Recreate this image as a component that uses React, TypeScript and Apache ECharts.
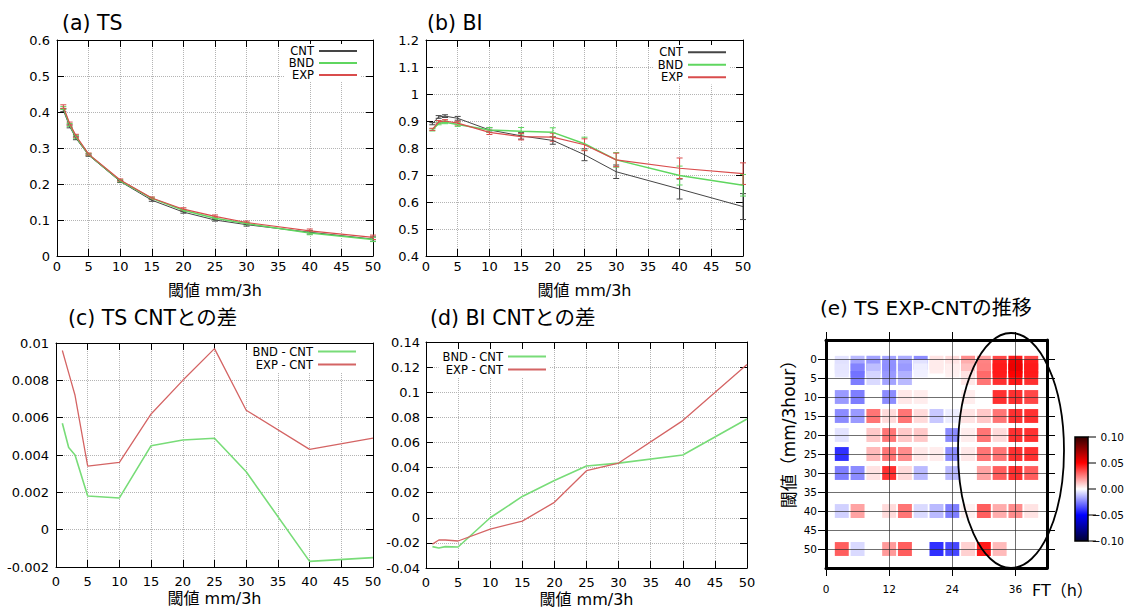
import React, { useEffect, useRef } from 'react';
import * as echarts from 'echarts';

const FONT = "'DejaVu Sans', 'Noto Sans CJK JP', sans-serif";

// ---------- data ----------
const thresholds = [1, 2, 3, 5, 10, 15, 20, 25, 30, 40, 50];

// (a) TS
const tsCNT = [0.405, 0.36, 0.327, 0.28, 0.207, 0.155, 0.122, 0.1, 0.087, 0.066, 0.047];
const tsBND = [0.411, 0.364, 0.331, 0.282, 0.209, 0.16, 0.127, 0.105, 0.09, 0.064, 0.046];
const tsEXP = [0.415, 0.368, 0.334, 0.283, 0.211, 0.161, 0.13, 0.11, 0.093, 0.07, 0.052];
const tsErrCNT = [0.004, 0.004, 0.004, 0.003, 0.003, 0.003, 0.003, 0.003, 0.004, 0.005, 0.006];
const tsErrBND = [0.004, 0.004, 0.004, 0.003, 0.003, 0.003, 0.003, 0.004, 0.004, 0.005, 0.006];
const tsErrEXP = [0.005, 0.004, 0.004, 0.003, 0.003, 0.003, 0.004, 0.004, 0.004, 0.005, 0.006];

// (b) BI
const biCNT = [0.89, 0.915, 0.918, 0.91, 0.867, 0.845, 0.828, 0.775, 0.712, 0.648, 0.583];
const biBND = [0.867, 0.891, 0.895, 0.887, 0.867, 0.862, 0.858, 0.816, 0.756, 0.698, 0.662];
const biEXP = [0.869, 0.897, 0.9, 0.892, 0.858, 0.842, 0.84, 0.812, 0.756, 0.725, 0.705];
const biErrCNT = [0.004, 0.005, 0.005, 0.007, 0.008, 0.012, 0.014, 0.022, 0.025, 0.037, 0.048];
const biErrBND = [0.004, 0.005, 0.005, 0.007, 0.009, 0.014, 0.017, 0.024, 0.027, 0.035, 0.04];
const biErrEXP = [0.004, 0.005, 0.005, 0.007, 0.008, 0.012, 0.015, 0.022, 0.025, 0.038, 0.04];

// (c) TS differences
const tsDiffBND = [0.0057, 0.0044, 0.004, 0.0018, 0.0017, 0.0045, 0.0048, 0.0049, 0.0031, -0.0017, -0.0015];
const tsDiffEXP = [0.0096, 0.0084, 0.0072, 0.0034, 0.0036, 0.0062, 0.008, 0.0097, 0.0064, 0.0043, 0.0049];

// (d) BI differences
const biDiffBND = [-0.023, -0.024, -0.023, -0.0233, 0.0, 0.017, 0.0297, 0.0412, 0.0435, 0.05, 0.0787];
const biDiffEXP = [-0.021, -0.0177, -0.0177, -0.0185, -0.009, -0.0027, 0.0123, 0.0375, 0.0436, 0.0774, 0.122];

const modelNames = ['CNT', 'BND', 'EXP'];
const diffNames = ['BND - CNT', 'EXP - CNT'];

// (e) heatmap: TS EXP-CNT by forecast time (columns) and threshold (rows)
const heatFT = [3, 6, 9, 12, 15, 18, 21, 24, 27, 30, 33, 36, 39];
const heatThr = [1, 2, 3, 5, 10, 15, 20, 25, 30, 40, 50];
const heatValues = [
  [-0.006, -0.015, -0.02, -0.02, -0.018, -0.025, 0.006, 0.008, 0.025, 0.02, 0.04, 0.05, 0.04],
  [-0.006, -0.018, -0.02, -0.022, -0.018, -0.004, 0.004, 0.005, 0.015, 0.025, 0.045, 0.055, 0.045],
  [-0.005, -0.025, -0.012, -0.022, -0.02, -0.003, 0, 0.003, 0.012, 0.025, 0.045, 0.055, 0.045],
  [0, -0.028, -0.008, -0.02, -0.015, 0, 0, 0, 0.005, 0.03, 0.045, 0.05, 0.045],
  [-0.022, -0.028, 0, -0.025, 0.005, 0.004, 0, 0, 0.004, 0, 0.045, 0.045, 0.04],
  [-0.025, -0.022, 0.03, 0.008, 0.03, 0.008, -0.012, -0.004, 0.006, 0.012, 0.03, 0.045, 0.045],
  [-0.006, 0, 0.012, 0.03, 0.012, 0.012, 0, -0.025, 0.004, 0.03, 0.008, 0.045, 0.045],
  [-0.045, 0, 0.015, 0.03, 0.025, 0.005, 0.004, -0.025, 0.005, 0.03, 0.03, 0.045, 0.045],
  [-0.028, -0.025, 0.006, 0.045, 0.008, -0.015, 0, -0.015, 0, 0.02, 0.035, 0.045, 0.035],
  [-0.01, 0.02, 0, 0.008, 0.03, -0.008, -0.015, -0.028, 0.003, 0.035, 0.018, 0.025, 0.006],
  [0.035, -0.008, 0, 0.022, 0.035, 0, -0.045, -0.04, 0.01, 0.05, 0.015, 0, 0],
];
const heatXTicks = [0, 12, 24, 36];
const heatYTicks = [0, 5, 10, 15, 20, 25, 30, 35, 40, 45, 50];
const colorbarLabels = ['0.10', '0.05', '0.00', '−0.05', '−0.10'];
const heatColors = ['#000033', '#0000ff', '#ffffff', '#ff0000', '#330000'];

// ---------- styling ----------
const C_CNT = '#454545';
const C_BND = '#5fd65f';
const C_EXP = '#d94c4c';
const C_BND2 = '#78dc78';
const C_EXP2 = '#d46464';

const grids = [
  { left: 57, right: 764, top: 40, bottom: 353 },
  { left: 426, right: 394, top: 40, bottom: 353 },
  { left: 56, right: 764, top: 343, bottom: 42 },
  { left: 426, right: 390, top: 342, bottom: 41 },
  { left: 826, right: 90, top: 340, bottom: 41 },
];

const panelDefs = [
  { ymin: 0, ymax: 0.6, yint: 0.1, xm: 4, ym: 7, ng: 26 },
  { ymin: 0.4, ymax: 1.2, yint: 0.1, xm: 4, ym: 7, ng: 26 },
  { ymin: -0.002, ymax: 0.01, yint: 0.002, xm: 8, ym: 7, ng: 23 },
  { ymin: -0.04, ymax: 0.14, yint: 0.02, xm: 8, ym: 6, ng: 23 },
];

function buildAxes() {
  const xAxis: any[] = [];
  const yAxis: any[] = [];
  panelDefs.forEach((d, g) => {
    const tick = { show: true, inside: true, length: 7, lineStyle: { color: '#000', width: 1 } };
    const line = { show: true, onZero: false, lineStyle: { color: '#000', width: 1 } };
    xAxis.push({
      type: 'value', gridIndex: g, position: 'bottom', min: 0, max: 50, interval: 5,
      name: '閾値 mm/3h', nameLocation: 'middle', nameGap: d.ng,
      nameTextStyle: { fontSize: 16, color: '#000', fontFamily: FONT },
      axisLine: line, axisTick: tick,
      axisLabel: { margin: d.xm, fontSize: 13, color: '#000', fontFamily: FONT },
      splitLine: { show: true, lineStyle: { color: '#b4b4b4', type: 'dotted', width: 1 } },
    });
    xAxis.push({
      type: 'value', gridIndex: g, position: 'top', min: 0, max: 50, interval: 5,
      axisLine: line, axisTick: tick, axisLabel: { show: false }, splitLine: { show: false },
    });
    yAxis.push({
      type: 'value', gridIndex: g, position: 'left', min: d.ymin, max: d.ymax, interval: d.yint,
      axisLine: line, axisTick: tick,
      axisLabel: { margin: d.ym, fontSize: 13, color: '#000', fontFamily: FONT },
      splitLine: { show: true, lineStyle: { color: '#b4b4b4', type: 'dotted', width: 1 } },
    });
    yAxis.push({
      type: 'value', gridIndex: g, position: 'right', min: d.ymin, max: d.ymax, interval: d.yint,
      axisLine: line, axisTick: tick, axisLabel: { show: false }, splitLine: { show: false },
    });
  });
  // heatmap axes (grid 4)
  const thick = { show: true, onZero: false, lineStyle: { color: '#000', width: 3 } };
  const outTickX = { show: true, inside: false, length: 8, customValues: heatXTicks, lineStyle: { color: '#000', width: 1 } };
  const outTickY = { show: true, inside: false, length: 8, customValues: heatYTicks, lineStyle: { color: '#000', width: 1 } };
  const inner = { show: true, lineStyle: { color: '#2a2a2a', width: 0.8, opacity: 0.85 } };
  xAxis.push({
    type: 'value', gridIndex: 4, position: 'bottom', min: 0, max: 42, interval: 3, z: 5,
    axisLine: thick, axisTick: outTickX,
    axisLabel: {
      customValues: heatXTicks, margin: 16, fontSize: 10.5, color: '#000', fontFamily: FONT,
      formatter: (v: number) => (heatXTicks.indexOf(v) >= 0 ? String(v) : ''),
    },
    splitLine: inner,
  });
  xAxis.push({
    type: 'value', gridIndex: 4, position: 'top', min: 0, max: 42, interval: 3, z: 5,
    axisLine: thick, axisTick: outTickX, axisLabel: { show: false }, splitLine: { show: false },
  });
  yAxis.push({
    type: 'value', gridIndex: 4, position: 'left', min: -5, max: 55, interval: 5, inverse: true, z: 5,
    axisLine: thick, axisTick: outTickY,
    axisLabel: {
      customValues: heatYTicks, margin: 9, fontSize: 10.5, color: '#000', fontFamily: FONT,
      formatter: (v: number) => (v < 0 || v > 50 ? '' : String(v)),
    },
    splitLine: inner,
  });
  yAxis.push({
    type: 'value', gridIndex: 4, position: 'right', min: -5, max: 55, interval: 5, inverse: true, z: 5,
    axisLine: thick, axisTick: outTickY, axisLabel: { show: false }, splitLine: { show: false },
  });
  return { xAxis, yAxis };
}

function lineSeries(name: string, g: number, vals: number[], color: string, width: number) {
  return {
    type: 'line', name, xAxisIndex: 2 * g, yAxisIndex: 2 * g,
    data: thresholds.map((t, i) => [t, vals[i]]),
    symbol: 'none', silent: true, z: 3,
    lineStyle: { color, width }, itemStyle: { color },
  };
}

function errSeries(name: string, g: number, vals: number[], errs: number[], color: string) {
  return {
    type: 'custom', name, xAxisIndex: 2 * g, yAxisIndex: 2 * g, z: 2, silent: true,
    encode: { x: 0, y: 1 },
    data: thresholds.map((t, i) => [t, vals[i], errs[i]]),
    renderItem: (_p: any, api: any) => {
      const x = api.value(0), y = api.value(1), e = api.value(2);
      const lo = api.coord([x, y - e]);
      const hi = api.coord([x, y + e]);
      const w = 3;
      const st = { stroke: color, lineWidth: 1 };
      return {
        type: 'group',
        children: [
          { type: 'line', shape: { x1: lo[0], y1: lo[1], x2: hi[0], y2: hi[1] }, style: st },
          { type: 'line', shape: { x1: lo[0] - w, y1: lo[1], x2: lo[0] + w, y2: lo[1] }, style: st },
          { type: 'line', shape: { x1: hi[0] - w, y1: hi[1], x2: hi[0] + w, y2: hi[1] }, style: st },
        ],
      };
    },
  };
}

function legend(names: string[], right: number, top: number, lh: number) {
  return {
    orient: 'vertical', right, top, align: 'right', itemWidth: 38, itemHeight: 8, itemGap: 0,
    padding: [1, 2, 1, 4], backgroundColor: '#fff', selectedMode: false, data: names,
    itemStyle: { opacity: 0 },
    textStyle: { fontSize: 11.5, color: '#000', fontFamily: FONT, lineHeight: lh },
  };
}

function buildOption() {
  const { xAxis, yAxis } = buildAxes();
  const heatData: number[][] = [];
  heatValues.forEach((row, r) => {
    row.forEach((v, c) => {
      if (v !== 0) heatData.push([heatFT[c], heatThr[r], v]);
    });
  });

  const series: any[] = [
    errSeries('CNT err a', 0, tsCNT, tsErrCNT, C_CNT),
    errSeries('BND err a', 0, tsBND, tsErrBND, C_BND),
    errSeries('EXP err a', 0, tsEXP, tsErrEXP, C_EXP),
    lineSeries(modelNames[0], 0, tsCNT, C_CNT, 1),
    lineSeries(modelNames[1], 0, tsBND, C_BND, 1.5),
    lineSeries(modelNames[2], 0, tsEXP, C_EXP, 1.2),
    errSeries('CNT err b', 1, biCNT, biErrCNT, C_CNT),
    errSeries('BND err b', 1, biBND, biErrBND, C_BND),
    errSeries('EXP err b', 1, biEXP, biErrEXP, C_EXP),
    lineSeries(modelNames[0], 1, biCNT, C_CNT, 1),
    lineSeries(modelNames[1], 1, biBND, C_BND, 1.5),
    lineSeries(modelNames[2], 1, biEXP, C_EXP, 1.2),
    lineSeries(diffNames[0], 2, tsDiffBND, C_BND2, 1.6),
    lineSeries(diffNames[1], 2, tsDiffEXP, C_EXP2, 1.3),
    lineSeries(diffNames[0], 3, biDiffBND, C_BND2, 1.6),
    lineSeries(diffNames[1], 3, biDiffEXP, C_EXP2, 1.3),
  ];
  const heatIndex = series.length;
  series.push({
    type: 'custom', name: 'TS EXP-CNT', xAxisIndex: 8, yAxisIndex: 8, z: 2, silent: true,
    encode: { x: 0, y: 1 },
    data: heatData,
    renderItem: (_p: any, api: any) => {
      const c = api.coord([api.value(0), api.value(1)]);
      const s = api.size([2.65, 3.65]);
      return {
        type: 'rect',
        shape: { x: c[0] - s[0] / 2, y: c[1] - s[1] / 2, width: s[0], height: s[1] },
        style: { fill: api.visual('color'), opacity: 0.9 },
      };
    },
  });

  const title = (text: string, x: number, y: number, size: number) => ({
    type: 'text', x, y, z: 20,
    style: { text, fontSize: size, fontFamily: FONT, fill: '#000', align: 'left', verticalAlign: 'middle' },
  });

  const cbX = 1075, cbY = 437, cbW = 13, cbH = 104;
  const cbGraphics: any[] = [
    {
      type: 'rect', shape: { x: cbX, y: cbY, width: cbW, height: cbH }, z: 20,
      style: {
        fill: new echarts.graphic.LinearGradient(0, 0, 0, 1, [
          { offset: 0, color: heatColors[4] },
          { offset: 0.25, color: heatColors[3] },
          { offset: 0.5, color: heatColors[2] },
          { offset: 0.75, color: heatColors[1] },
          { offset: 1, color: heatColors[0] },
        ]),
        stroke: '#000', lineWidth: 1.5,
      },
    },
  ];
  colorbarLabels.forEach((lab, i) => {
    const y = cbY + (cbH * i) / (colorbarLabels.length - 1);
    cbGraphics.push({ type: 'line', z: 20, shape: { x1: cbX + cbW, y1: y, x2: cbX + cbW + 8, y2: y }, style: { stroke: '#000', lineWidth: 1 } });
    cbGraphics.push({
      type: 'text', x: 1124, y, z: 20,
      style: { text: lab, fontSize: 10.5, fontFamily: FONT, fill: '#000', align: 'right', verticalAlign: 'middle' },
    });
  });

  return {
    animation: false,
    backgroundColor: '#fff',
    textStyle: { fontFamily: FONT },
    grid: grids.map((g) => ({ ...g, containLabel: false, outerBoundsMode: 'none' })),
    xAxis,
    yAxis,
    legend: [
      legend(modelNames, 777, 44, 12),
      legend(modelNames, 408, 45, 12.5),
      legend(diffNames, 778, 344, 13),
      legend(diffNames, 588, 349, 13),
    ],
    visualMap: {
      type: 'continuous', show: false, min: -0.1, max: 0.1, dimension: 2, seriesIndex: heatIndex,
      inRange: { color: heatColors },
    },
    series,
    graphic: [
      title('(a) TS', 62, 23, 20.5),
      title('(b) BI', 427, 23, 20.5),
      title('(c) TS CNTとの差', 68, 318, 20.5),
      title('(d) BI CNTとの差', 430, 318, 20.5),
      title('(e) TS EXP-CNTの推移', 820, 308, 20),
      {
        type: 'text', x: 789, y: 430, rotation: Math.PI / 2, z: 20,
        style: { text: '閾値（mm/3hour）', fontSize: 17, fontFamily: FONT, fill: '#000', align: 'center', verticalAlign: 'middle' },
      },
      {
        type: 'text', x: 1032, y: 590, z: 20,
        style: { text: 'FT（h）', fontSize: 16, fontFamily: FONT, fill: '#000', align: 'left', verticalAlign: 'middle' },
      },
      {
        type: 'ellipse', z: 30, shape: { cx: 1011, cy: 450.5, rx: 53, ry: 117.5 },
        style: { fill: 'none', stroke: '#000', lineWidth: 1.8 },
      },
      ...cbGraphics,
    ],
  };
}

export default function App() {
  const ref = useRef<HTMLDivElement>(null);
  useEffect(() => {
    if (!ref.current) return;
    const chart = echarts.init(ref.current, null, { renderer: 'svg' });
    chart.setOption(buildOption() as any);
    return () => chart.dispose();
  }, []);
  return (
    <div
      ref={ref}
      style={{ position: 'fixed', left: 0, top: 0, width: 1137, height: 609, background: '#fff' }}
    />
  );
}
